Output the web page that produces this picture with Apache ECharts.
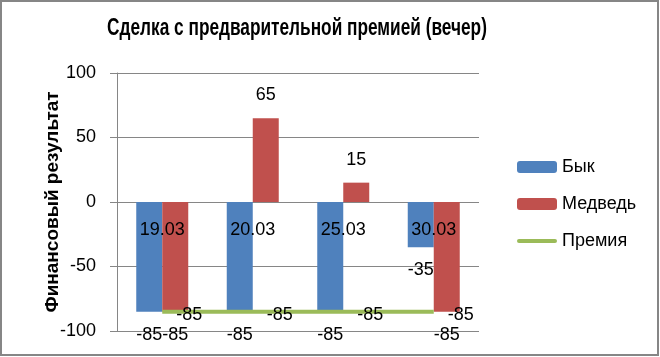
<!DOCTYPE html>
<html><head><meta charset="utf-8">
<script src="https://cdn.jsdelivr.net/npm/echarts@6/dist/echarts.min.js"></script>
<style>html,body{margin:0;padding:0;background:#fff}#c{width:660px;height:357px}</style>
</head><body><div id="c"></div>
<script>
const categories = ['19.03', '20.03', '25.03', '30.03'];
const bullValues = [-85, -85, -85, -35];
const bearValues = [-85, 65, 15, -85];
const premiumValues = [-85, -85, -85, -85];
const yTicks = [-100, -50, 0, 50, 100];

const FONT = '"Liberation Sans", Arial, sans-serif';
const labelStyle = { fontSize: 18, color: '#000', fontFamily: FONT, distance: 14 };
function barData(vals) {
  return vals.map(v => ({ value: v, label: Object.assign({ show: true, position: v < 0 ? 'bottom' : 'top' }, labelStyle) }));
}

const GRID_TOP = 73, GRID_BOTTOM = 26, H = 357;
const gridH = H - GRID_TOP - GRID_BOTTOM;
const yMin = yTicks[0], yMax = yTicks[yTicks.length - 1];
const zeroOffset = -gridH * (0 - yMin) / (yMax - yMin);

const chart = echarts.init(document.getElementById('c'), null, { renderer: 'canvas' });
chart.setOption({
  animation: false,
  backgroundColor: '#fff',
  legend: {
    orient: 'vertical', left: 512, top: 153,
    itemWidth: 40, itemHeight: 12, itemGap: 19,
    textStyle: { fontSize: 18, color: '#000', fontFamily: FONT },
    data: ['Бык', 'Медведь', { name: 'Премия', icon: 'path://M0,0 M0,12 M2,4 L38,4 A2,2 0 0 1 38,8 L2,8 A2,2 0 0 1 2,4 Z' }]
  },
  grid: { left: 117, right: 181, top: GRID_TOP, bottom: GRID_BOTTOM, outerBoundsMode: 'none', containLabel: false },
  xAxis: {
    type: 'category', data: categories,
    offset: zeroOffset, z: 10,
    axisLine: { show: false, onZero: false },
    axisTick: { show: false },
    axisLabel: { fontSize: 18, color: '#000', fontFamily: FONT, margin: 19 }
  },
  yAxis: {
    type: 'value', min: yMin, max: yMax, interval: 50,
    name: 'Финансовый результат', nameLocation: 'middle', nameGap: 55, nameRotate: 90,
    nameMoveOverlap: false,
    nameTextStyle: { fontSize: 19, fontWeight: 'bold', color: '#000', fontFamily: FONT },
    axisLine: { show: true, lineStyle: { color: '#868686' } },
    axisTick: { show: true, length: 7, lineStyle: { color: '#868686' } },
    axisLabel: { fontSize: 18, color: '#000', fontFamily: FONT, margin: 21 },
    splitLine: { lineStyle: { color: '#868686' } }
  },
  series: [
    { name: 'Бык', type: 'bar', barWidth: 26, barGap: 0, itemStyle: { color: '#4F81BD' }, data: barData(bullValues) },
    { name: 'Медведь', type: 'bar', barWidth: 26, barGap: 0, itemStyle: { color: '#C0504D' }, data: barData(bearValues) },
    { name: 'Премия', type: 'line', symbol: 'circle', symbolSize: 0, lineStyle: { color: '#9BBB59', width: 4 }, itemStyle: { color: '#9BBB59' },
      label: { show: true, position: 'right', distance: 14, offset: [0, 3], fontSize: 18, color: '#000', fontFamily: FONT },
      data: premiumValues }
  ],
  graphic: [
    { type: 'text', x: 297, y: 29, scaleX: 0.75, z: 100,
      style: { text: 'Сделка с предварительной премией (вечер)', font: 'bold 23px "Liberation Sans", Arial, sans-serif', fill: '#000', align: 'center', verticalAlign: 'middle' } },
    { type: 'rect', shape: { x: 1, y: 1, width: 657, height: 354 }, style: { fill: null, stroke: '#868686', lineWidth: 2 }, z: 100 }
  ]
});
</script></body></html>
